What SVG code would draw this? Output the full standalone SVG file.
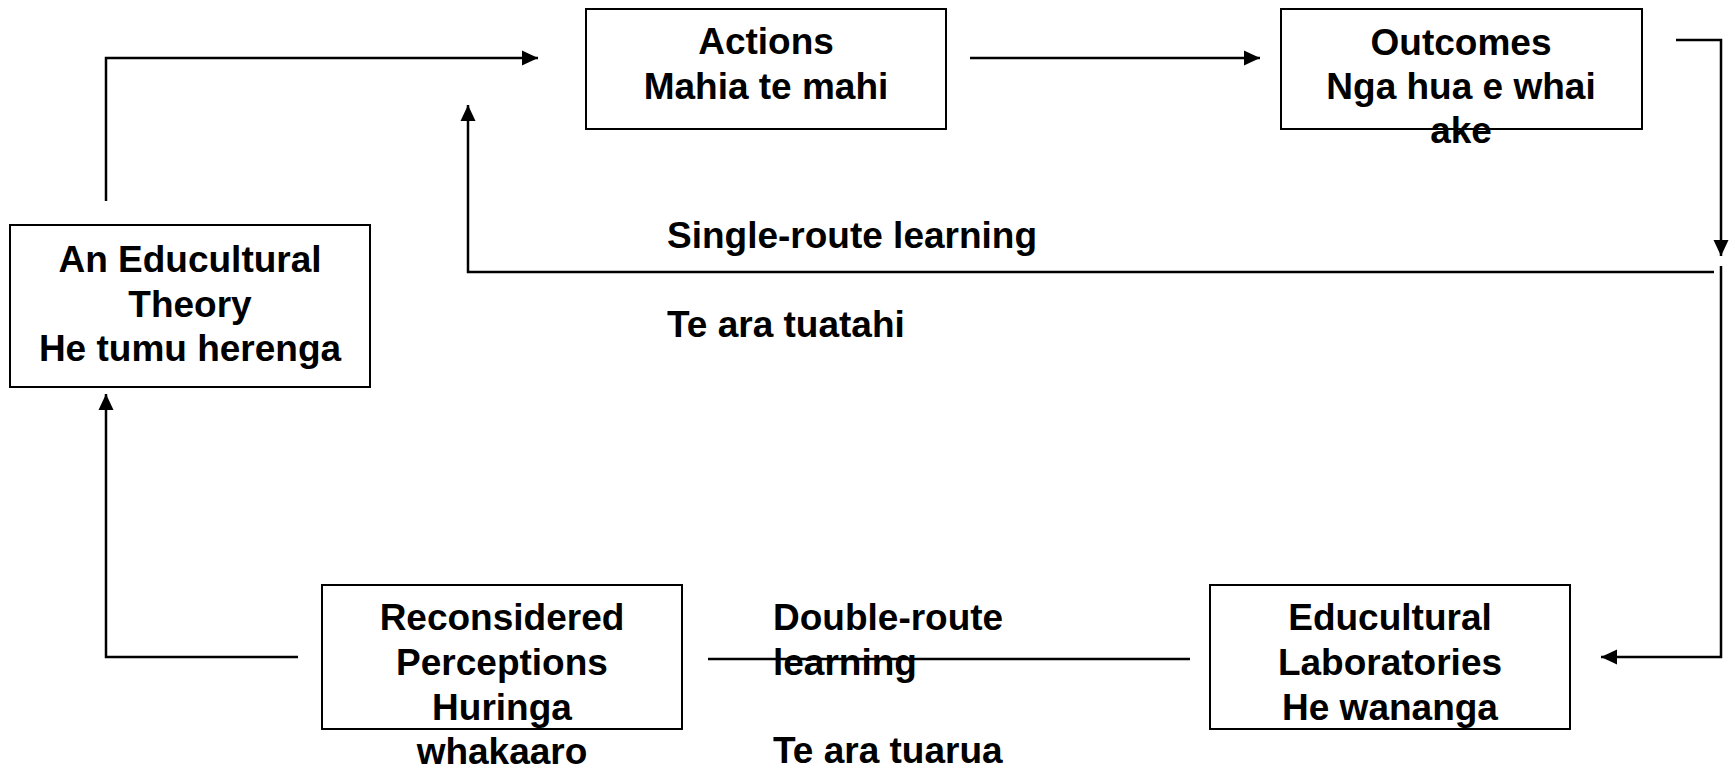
<svg xmlns="http://www.w3.org/2000/svg" width="1735" height="770" viewBox="0 0 1735 770">
<style>
.box{fill:#fff;stroke:#000;stroke-width:2}
.t{font-family:"Liberation Sans",Arial,sans-serif;font-weight:bold;font-size:37px;fill:#000}
.c{text-anchor:middle}
.ln{fill:none;stroke:#000;stroke-width:2.5}
</style>
<defs>
<marker id="ah" markerUnits="userSpaceOnUse" markerWidth="16" markerHeight="16" refX="16" refY="8" orient="auto">
<path d="M0,0.5 L16,8 L0,15.5 z" fill="#000"/>
</marker>
</defs>
<rect width="1735" height="770" fill="#fff"/>
<g id="connectors">
<path class="ln" d="M106,201 V58 H538" marker-end="url(#ah)"/>
<path class="ln" d="M970,58 H1260" marker-end="url(#ah)"/>
<path class="ln" d="M1676,40 H1721 V256" marker-end="url(#ah)"/>
<path class="ln" d="M1714,272 H468 V105" marker-end="url(#ah)"/>
<path class="ln" d="M1721,266 V657 H1601" marker-end="url(#ah)"/>
<path class="ln" d="M708,659 H1190"/>
<path class="ln" d="M298,657 H106 V394" marker-end="url(#ah)"/>
</g>
<g id="theory">
<rect class="box" x="10" y="225" width="360" height="162"/>
<text class="t c" x="190" y="272">An Educultural</text>
<text class="t c" x="190" y="317">Theory</text>
<text class="t c" x="190" y="361">He tumu herenga</text>
</g>
<g id="actions">
<rect class="box" x="586" y="9" width="360" height="120"/>
<text class="t c" x="766" y="54">Actions</text>
<text class="t c" x="766" y="99">Mahia te mahi</text>
</g>
<g id="outcomes">
<rect class="box" x="1281" y="9" width="361" height="120"/>
<text class="t c" x="1461" y="55">Outcomes</text>
<text class="t c" x="1461" y="99">Nga hua e whai</text>
<text class="t c" x="1461" y="143">ake</text>
</g>
<g id="reconsidered">
<rect class="box" x="322" y="585" width="360" height="144"/>
<text class="t c" x="502" y="630">Reconsidered</text>
<text class="t c" x="502" y="675">Perceptions</text>
<text class="t c" x="502" y="720">Huringa</text>
<text class="t c" x="502" y="764">whakaaro</text>
</g>
<g id="laboratories">
<rect class="box" x="1210" y="585" width="360" height="144"/>
<text class="t c" x="1390" y="630">Educultural</text>
<text class="t c" x="1390" y="675">Laboratories</text>
<text class="t c" x="1390" y="720">He wananga</text>
</g>
<g id="labels">
<text class="t" x="667" y="248">Single-route learning</text>
<text class="t" x="667" y="337">Te ara tuatahi</text>
<text class="t" x="773" y="630">Double-route</text>
<text class="t" x="773" y="675">learning</text>
<text class="t" x="773" y="763">Te ara tuarua</text>
</g>
</svg>
